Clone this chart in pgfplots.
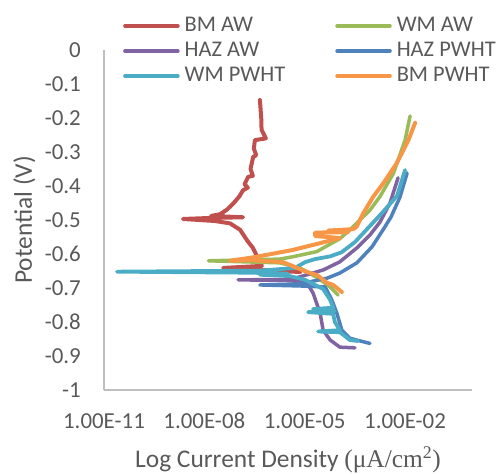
\documentclass[border=0pt]{standalone}
\usepackage{pgfplots}
\pgfplotsset{compat=1.18}
\usepackage{fontspec}
\setmainfont{Carlito}
\newfontfamily\seriffont{Liberation Serif}
\definecolor{txt}{HTML}{595959}
\definecolor{cBMAW}{HTML}{C0504D}
\definecolor{cWMAW}{HTML}{9BBB59}
\definecolor{cHAZAW}{HTML}{8064A2}
\definecolor{cHAZPWHT}{HTML}{4F81BD}
\definecolor{cWMPWHT}{HTML}{4BACC6}
\definecolor{cBMPWHT}{HTML}{F79646}
\begin{document}
\begin{tikzpicture}
\path[use as bounding box] (0,0) rectangle (496bp,474bp);
\begin{axis}[
  at={(104bp,84bp)}, anchor=south west,
  scale only axis, width=368bp, height=340bp,
  xmin=-11, xmax=0, ymin=-1, ymax=0,
  xtick={-11,-8,-5,-2},
  xticklabels={1.00E-11,1.00E-08,1.00E-05,1.00E-02},
  ytick={0,-0.1,-0.2,-0.3,-0.4,-0.5,-0.6,-0.7,-0.8,-0.9,-1},
  yticklabels={0,-0.1,-0.2,-0.3,-0.4,-0.5,-0.6,-0.7,-0.8,-0.9,-1},
  major tick length=0pt,
  axis x line*=bottom, axis y line*=left,
  axis line style={draw=black!25, line width=1.3bp, -},
  tick label style={font=\fontsize{23}{27}\selectfont, text=txt},
  yticklabel style={anchor=east, inner sep=0pt, xshift=-23bp},
  xticklabel style={anchor=north, inner sep=0pt, yshift=-23bp},
  xlabel={Log Current Density {\seriffont(μA/cm\textsuperscript{2})}},
  ylabel={Potential (V)},
  every axis x label/.style={at={(rel axis cs:0.5,-0.229)}, anchor=base, font=\fontsize{25.5}{30}\selectfont, text=txt},
  every axis y label/.style={at={(rel axis cs:-0.1957,0.5)}, rotate=90, anchor=base, font=\fontsize{25.5}{30}\selectfont, text=txt},
  legend columns=2,
  legend cell align=left,
  legend image code/.code={\draw[#1, line width=3.5bp, line cap=round] (0bp,0bp) -- (53bp,0bp);},
  legend style={draw=none, fill=none, at={(rel axis cs:0.0435,1.108)}, anchor=north west,
    font=\fontsize{22.5}{27}\selectfont, text=txt,
    /tikz/every odd column/.append style={column sep=5bp},
    /tikz/every even column/.append style={column sep=50bp},
    row sep=4bp, nodes={inner sep=0pt, text height=16bp, text depth=5bp}},
  every axis plot/.append style={line width=4bp, line cap=round, line join=round, no marks},
]
% BM AW
\addplot[cBMAW, line width=4bp] coordinates {
(-5.14,-0.653) (-7.44,-0.641) (-6.28,-0.635) (-6.40,-0.612) (-6.55,-0.582) (-6.73,-0.559)
(-6.93,-0.529) (-7.23,-0.510) (-7.68,-0.503) (-8.64,-0.497) (-7.83,-0.494) (-6.84,-0.492)
(-7.80,-0.488) (-7.53,-0.483) (-7.33,-0.470) (-7.13,-0.451) (-6.95,-0.430) (-6.84,-0.412) (-6.70,-0.405)
(-6.80,-0.395) (-6.69,-0.373) (-6.55,-0.370) (-6.62,-0.350) (-6.54,-0.314) (-6.45,-0.310)
(-6.52,-0.290) (-6.49,-0.265) (-6.16,-0.260) (-6.29,-0.235) (-6.30,-0.200) (-6.34,-0.147)
};
\addlegendentry{BM AW}
% WM AW
\addplot[cWMAW, line width=3.5bp] coordinates {
(-4.00,-0.721) (-4.24,-0.697) (-4.60,-0.671) (-5.14,-0.641) (-5.74,-0.626) (-7.88,-0.620)
(-5.74,-0.615) (-5.35,-0.608) (-4.64,-0.593) (-3.95,-0.555) (-3.65,-0.529) (-3.35,-0.500)
(-3.05,-0.471) (-2.75,-0.431) (-2.35,-0.363) (-2.00,-0.265) (-1.85,-0.194)
};
\addlegendentry{WM AW}
% HAZ AW
\addplot[cHAZAW, line width=3.5bp] coordinates {
(-3.50,-0.876) (-3.95,-0.874) (-4.24,-0.853) (-4.45,-0.824) (-4.54,-0.774) (-4.75,-0.715)
(-4.93,-0.685) (-5.44,-0.678) (-6.99,-0.676) (-5.44,-0.675) (-5.14,-0.667) (-4.45,-0.647)
(-3.95,-0.623) (-3.44,-0.582) (-3.05,-0.544) (-2.75,-0.506) (-2.45,-0.450) (-2.21,-0.376)
};
\addlegendentry{HAZ AW}
% HAZ PWHT
\addplot[cHAZPWHT, line width=3.5bp] coordinates {
(-3.05,-0.863) (-3.65,-0.848) (-3.89,-0.824) (-4.04,-0.774) (-4.19,-0.735) (-4.39,-0.697)
(-5.14,-0.694) (-6.34,-0.691) (-5.14,-0.688) (-4.33,-0.671) (-3.95,-0.656) (-3.44,-0.626)
(-2.99,-0.579) (-2.66,-0.529) (-2.42,-0.491) (-2.15,-0.432) (-1.94,-0.362)
};
\addlegendentry{HAZ PWHT}
% WM PWHT
\addplot[cWMPWHT, line width=3.8bp] coordinates {
(-3.41,-0.856) (-3.65,-0.853) (-3.95,-0.830) (-4.60,-0.828) (-3.95,-0.824) (-4.10,-0.800)
(-4.15,-0.776) (-4.90,-0.771) (-4.10,-0.768) (-4.75,-0.762) (-4.15,-0.758) (-4.24,-0.735)
(-4.45,-0.703) (-4.99,-0.676) (-5.44,-0.665) (-6.34,-0.661) (-5.50,-0.658) (-6.60,-0.655)
(-10.61,-0.652) (-6.34,-0.649) (-5.29,-0.641) (-4.99,-0.624) (-4.69,-0.615) (-4.24,-0.607)
(-3.90,-0.595) (-3.50,-0.565) (-3.12,-0.525) (-2.65,-0.475) (-2.24,-0.429) (-2.00,-0.353)
};
\addlegendentry{WM PWHT}
% BM PWHT
\addplot[cBMPWHT, line width=4bp] coordinates {
(-3.89,-0.712) (-4.15,-0.691) (-4.33,-0.685) (-4.63,-0.662) (-4.93,-0.653) (-5.65,-0.624)
(-6.64,-0.618) (-7.23,-0.620) (-6.49,-0.609) (-5.35,-0.588) (-4.54,-0.568) (-3.95,-0.553)
(-4.69,-0.547) (-4.69,-0.537) (-3.70,-0.536) (-4.30,-0.531) (-3.56,-0.527) (-3.45,-0.520)
(-3.25,-0.480) (-2.95,-0.431) (-2.65,-0.392) (-2.25,-0.333) (-1.90,-0.265) (-1.70,-0.214)
};
\addlegendentry{BM PWHT}
\end{axis}
\end{tikzpicture}
\end{document}
